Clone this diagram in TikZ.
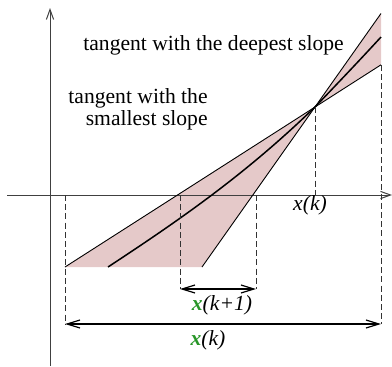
\documentclass[tikz,border=0pt]{standalone}
\usepackage{fontspec}
\setmainfont{Liberation Serif}
\usetikzlibrary{arrows.meta}
\definecolor{bandpink}{RGB}{229,201,201}
\definecolor{tagreen}{RGB}{40,150,40}
\newcommand{\gx}{\textcolor{tagreen}{\textbf{\textit{x}}}}

\begin{document}
\begin{tikzpicture}[
  x=0.5pt, y=-0.5pt,
  axis/.style={draw=black!75, line width=0.5pt, -{Straight Barb[length=5pt,width=3.6pt]}},
  tangent/.style={draw, line width=0.45pt},
  guide/.style={draw=black!80, line width=0.45pt, dash pattern=on 3pt off 1.6pt},
  spanarrow/.style={draw, line width=0.6pt, {Straight Barb[length=6.5pt,width=4pt]}-{Straight Barb[length=6.5pt,width=4pt]}},
  lbl/.style={font=\fontsize{10.8}{11}\selectfont, inner sep=0pt}
]
\useasboundingbox (0,0) rectangle (392,366);

% points of the picture
\coordinate (xl) at (7,195);
\coordinate (xr) at (392,195);
\coordinate (yb) at (50,366);
\coordinate (yt) at (50,8);
\coordinate (tp) at (315,107);
\coordinate (flatlow) at (65,267);
\coordinate (flathigh) at (381,64.8);
\coordinate (steeplow) at (202,267);
\coordinate (steephigh) at (381,13.5);
\coordinate (curvelow) at (108,267);
\coordinate (curvehigh) at (381,37);

% shaded band between the two tangents
\fill[bandpink] (flatlow) -- (tp) -- (steeplow) -- cycle;
\fill[bandpink] (tp) -- (flathigh) -- (steephigh) -- cycle;

% axes
\draw[axis] (xl) -- (xr);
\draw[axis] (yb) -- (yt);

% tangents and curve
\draw[tangent] (flatlow) -- (flathigh);
\draw[tangent] (steeplow) -- (steephigh);
\draw[line width=0.75pt] (curvelow) .. controls (178,221) and (245,175) .. (tp)
  .. controls (337,84) and (359,61) .. (curvehigh);

% guides down from the axis
\coordinate (gtp) at (315,195);
\coordinate (gl0) at (65,195);
\coordinate (gl1) at (65,324);
\coordinate (gr1) at (381,324);
\coordinate (ga0) at (180,195);
\coordinate (ga1) at (180,289);
\coordinate (gb0) at (256,195);
\coordinate (gb1) at (256,289);
\draw[guide] (tp) -- (gtp);
\draw[guide] (flathigh) -- (gr1);
\draw[guide] (gl0) -- (gl1);
\draw[guide] (ga0) -- (ga1);
\draw[guide] (gb0) -- (gb1);

% interval arrows
\draw[spanarrow] (ga1) -- (gb1);
\draw[spanarrow] (gl1) -- (gr1);

% labels
\node[lbl, anchor=base west] (deep) at (83,50) {tangent with the deepest slope};
\node[lbl, anchor=north east, align=right] (small) at (208,88) {tangent with the\\smallest slope};
\node[lbl, anchor=base] (xk) at (310,210) {\textit{x(k)}};
\node[lbl, anchor=base] (xnext) at (222,310) {\gx\textit{(k+1)}};
\node[lbl, anchor=base] (xwide) at (208,345) {\gx\textit{(k)}};
\end{tikzpicture}
\end{document}
